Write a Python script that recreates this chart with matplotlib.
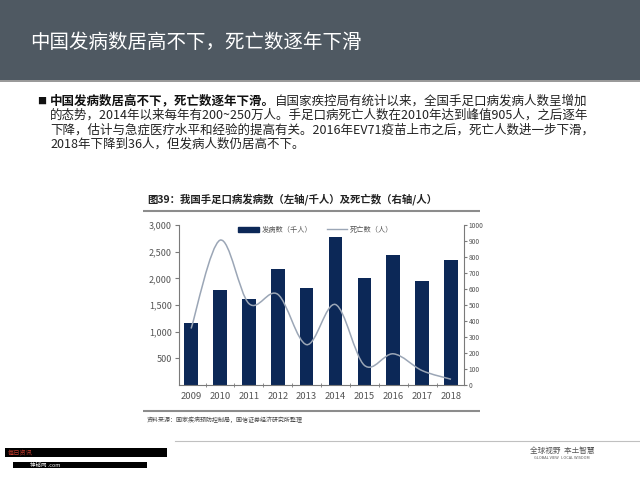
import matplotlib

matplotlib.use('Agg')

import matplotlib.pyplot as plt
import numpy as np
from matplotlib.lines import Line2D
from matplotlib.patches import Patch, PathPatch, Rectangle
from matplotlib.path import Path

plt.rcParams['font.family'] = ['Noto Sans CJK SC', 'DejaVu Sans']

years = ['2009', '2010', '2011', '2012', '2013', '2014', '2015', '2016', '2017', '2018']
cases_k = [1156, 1775, 1620, 2169, 1828, 2779, 1997, 2442, 1950, 2353]
deaths = [353, 905, 509, 567, 252, 503, 123, 195, 90, 36]

left_ticks = [500, 1000, 1500, 2000, 2500, 3000]
right_ticks = list(range(0, 1001, 100))

slide_title = '中国发病数居高不下，死亡数逐年下滑'
bullet_bold = '中国发病数居高不下，死亡数逐年下滑。'
bullet_lines = [
    '自国家疾控局有统计以来，全国手足口病发病人数呈增加',
    '的态势，2014年以来每年有200~250万人。手足口病死亡人数在2010年达到峰值905人，之后逐年',
    '下降，估计与急症医疗水平和经验的提高有关。2016年EV71疫苗上市之后，死亡人数进一步下滑，',
    '2018年下降到36人，但发病人数仍居高不下。',
]
chart_title = '图39：我国手足口病发病数（左轴/千人）及死亡数（右轴/人）'
source_note = '资料来源：国家疾病预防控制局，国信证券经济研究所整理'
legend_labels = ['发病数（千人）', '死亡数（人）']

BAR_COLOR = '#0c2857'
LINE_COLOR = '#9ba6b6'
AXIS_COLOR = '#7a7a7a'
TEXT_COLOR = '#555555'


def smooth_path(xs, ys):
    # Catmull-Rom through the points, drawn as cubic Bezier segments
    pts = np.column_stack([xs, ys]).astype(float)
    padded = np.vstack([pts[0], pts, pts[-1]])
    verts = [pts[0]]
    codes = [Path.MOVETO]
    for i in range(1, len(padded) - 2):
        p0, p1, p2, p3 = padded[i - 1], padded[i], padded[i + 1], padded[i + 2]
        verts += [p1 + (p2 - p0) / 6, p2 - (p3 - p1) / 6, p2]
        codes += [Path.CURVE4] * 3
    return Path(verts, codes)


fig = plt.figure(figsize=(6.4, 4.8), dpi=100)

# slide background layer in pixel coordinates
bg = fig.add_axes([0, 0, 1, 1])
bg.set_xlim(0, 640)
bg.set_ylim(480, 0)
bg.axis('off')

bg.add_patch(Rectangle((0, 0), 640, 80, color='#4f5962', lw=0))
bg.add_patch(Rectangle((0, 80), 640, 2, color='#9a9a9a', lw=0))
bg.text(30, 42, slide_title, color='white', fontsize=14, va='center')

bg.text(37, 101, '■', fontsize=6.5, va='center', color='#111111')
first = bg.text(50, 101, bullet_bold, fontsize=9, weight='bold', va='center', color='#111111')
bg.annotate(bullet_lines[0], xy=(1, 0.5), xycoords=first, va='center', ha='left',
            fontsize=9, color='#222222')
for i, line in enumerate(bullet_lines[1:], start=1):
    bg.text(50, 101 + 14.5 * i, line, fontsize=9, va='center', color='#222222')

bg.text(147, 199, chart_title, fontsize=7.5, weight='bold', va='center', color='#222222')
bg.plot([143, 480], [211, 211], color='#8c8c8c', lw=1.5, solid_capstyle='butt')
bg.plot([143, 480], [411, 411], color='#8c8c8c', lw=1.5, solid_capstyle='butt')
bg.text(147, 420, source_note, fontsize=4.3, va='center', color='#444444')

bg.plot([175, 640], [441, 441], color='#c0c0c0', lw=0.8)
bg.text(562, 451, '全球视野  本土智慧', fontsize=5.5, ha='center', va='center', color='#555555')
bg.text(562, 458, 'GLOBAL VIEW   LOCAL WISDOM', fontsize=2.8, ha='center', va='center', color='#555555')

bg.add_patch(Rectangle((5, 448), 162, 9, color='black', lw=0))
bg.add_patch(Rectangle((13, 462), 134, 6, color='black', lw=0))
bg.text(8, 452.5, '每日资讯', fontsize=4.5, va='center', color='#c0392b')
bg.text(30, 465, '神秘网 .com', fontsize=4, va='center', color='white')

# chart
ax = fig.add_axes([179 / 640, 95 / 480, 285 / 640, 160 / 480])
x = np.arange(len(years))
ax.bar(x, cases_k, width=0.47, color=BAR_COLOR, zorder=2)
ax.set_xlim(-0.42, len(years) - 0.55)
ax.set_ylim(0, 3000)
ax.set_yticks(left_ticks)
ax.set_yticklabels([f'{v:,}' for v in left_ticks])
ax.set_xticks(x)
ax.set_xticklabels(years)
ax.set_xticks(x[:-1] + 0.5, minor=True)
ax.tick_params(axis='x', which='major', length=0, labelsize=6.8, colors=TEXT_COLOR, pad=5)
ax.tick_params(axis='x', which='minor', length=3, direction='inout', color=AXIS_COLOR)
ax.tick_params(axis='y', length=3, labelsize=6.5, colors=TEXT_COLOR, pad=2)
ax.tick_params(axis='y', color=AXIS_COLOR)
ax.spines['top'].set_visible(False)
ax.spines['right'].set_visible(False)
for side in ('left', 'bottom'):
    ax.spines[side].set_color(AXIS_COLOR)
    ax.spines[side].set_linewidth(0.8)

ax2 = ax.twinx()
ax2.set_ylim(0, 1000)
ax2.set_yticks(right_ticks)
ax2.tick_params(axis='y', length=2, labelsize=4.8, colors=TEXT_COLOR, pad=1.5)
ax2.tick_params(axis='y', color=AXIS_COLOR)
for side in ('top', 'left', 'bottom'):
    ax2.spines[side].set_visible(False)
ax2.spines['right'].set_color(AXIS_COLOR)
ax2.spines['right'].set_linewidth(0.8)
ax2.add_patch(PathPatch(smooth_path(x, deaths), fill=False, edgecolor=LINE_COLOR, lw=1.1, zorder=3))

handles = [Patch(color=BAR_COLOR), Line2D([], [], color=LINE_COLOR, lw=1)]
ax2.legend(handles, legend_labels, loc='upper center', bbox_to_anchor=(0.48, 1.035), ncol=2,
           frameon=False, fontsize=5.2, labelcolor=TEXT_COLOR, handlelength=2.8,
           handleheight=0.6, columnspacing=2.0, handletextpad=0.4)

fig.savefig('out.png', dpi=100)
